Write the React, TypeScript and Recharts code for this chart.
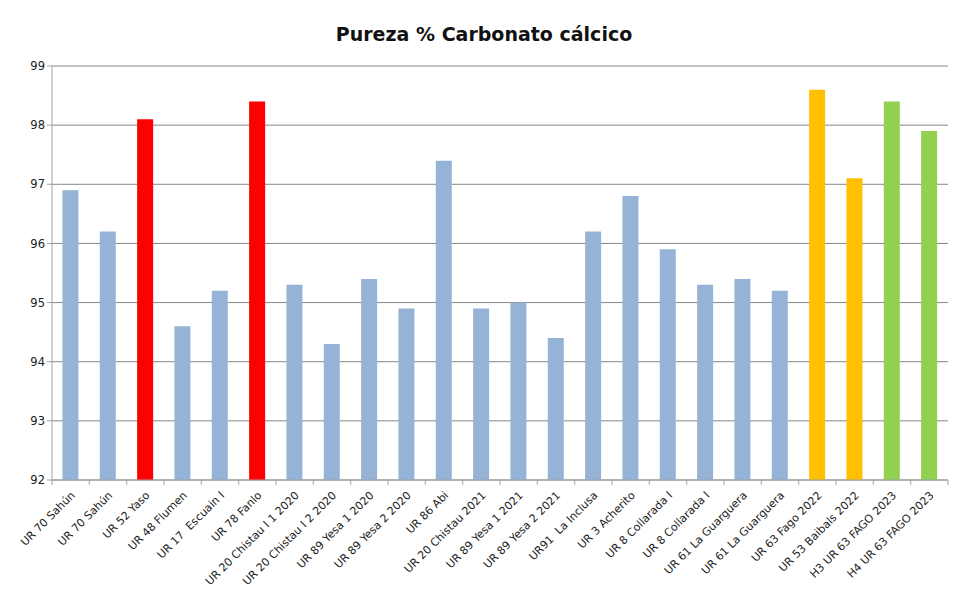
import { BarChart, Bar, XAxis, YAxis, CartesianGrid, Cell } from "recharts"

const categories = [
  "UR 70 Sahún",
  "UR 70 Sahún",
  "UR 52 Yaso",
  "UR 48 Flumen",
  "UR 17  Escuain I",
  "UR 78 Fanlo",
  "UR 20 Chistau I 1 2020",
  "UR 20 Chistau I 2 2020",
  "UR 89 Yesa 1 2020",
  "UR 89 Yesa 2 2020",
  "UR 86 Abi",
  "UR 20 Chistau 2021",
  "UR 89 Yesa 1 2021",
  "UR 89 Yesa 2 2021",
  "UR91  La Inclusa",
  "UR 3 Acherito",
  "UR 8 Collarada I",
  "UR 8 Collarada I",
  "UR 61 La Guarguera",
  "UR 61 La Guarguera",
  "UR 63 Fago 2022",
  "UR 53 Baibals 2022",
  "H3 UR 63 FAGO 2023",
  "H4 UR 63 FAGO 2023",
]

const purity = [
  96.9, 96.2, 98.1, 94.6, 95.2, 98.4, 95.3, 94.3, 95.4, 94.9, 97.4, 94.9,
  95.0, 94.4, 96.2, 96.8, 95.9, 95.3, 95.4, 95.2, 98.6, 97.1, 98.4, 97.9,
]

// color group per bar: b = blue, r = red, y = yellow, g = green
const groups = [
  "b", "b", "r", "b", "b", "r", "b", "b", "b", "b", "b", "b",
  "b", "b", "b", "b", "b", "b", "b", "b", "y", "y", "g", "g",
]

const yTicks = [92, 93, 94, 95, 96, 97, 98, 99]

const colors: Record<string, string> = {
  b: "#95B3D7",
  r: "#FF0000",
  y: "#FFC000",
  g: "#92D050",
}

const data = categories.map((name, i) => ({ name, value: purity[i], group: groups[i] }))

const WIDTH = 962
const HEIGHT = 607
const PLOT_LEFT = 52
const PLOT_RIGHT = 948
const band = (PLOT_RIGHT - PLOT_LEFT) / categories.length

function XTick(props: any) {
  const { x, y, payload, index } = props
  const tx = x + 5
  const ty = y + 8
  return (
    <g>
      <line x1={x - band / 2} y1={y - 8} x2={x - band / 2} y2={y - 3} stroke="#A0A0A0" />
      {index === categories.length - 1 && (
        <line x1={x + band / 2} y1={y - 8} x2={x + band / 2} y2={y - 3} stroke="#A0A0A0" />
      )}
      <text
        x={tx}
        y={ty}
        transform={`rotate(-45, ${tx}, ${ty})`}
        textAnchor="end"
        fontSize={11}
        fill="#222"
        style={{ whiteSpace: "pre" }}
      >
        {payload.value}
      </text>
    </g>
  )
}

export default function App() {
  return (
    <div
      style={{
        position: "relative",
        width: WIDTH,
        height: HEIGHT,
        margin: -8,
        background: "#fff",
        fontFamily: "'DejaVu Sans', sans-serif",
        overflow: "hidden",
      }}
    >
      <div
        style={{
          position: "absolute",
          left: 4,
          top: 4,
          width: WIDTH + 10,
          height: HEIGHT + 10,
          border: "1.5px solid #404040",
          boxSizing: "border-box",
        }}
      />
      <div
        style={{
          position: "absolute",
          left: 0,
          top: 23,
          width: 968,
          textAlign: "center",
          fontSize: 19,
          fontWeight: "bold",
          color: "#111",
        }}
      >
        Pureza % Carbonato cálcico
      </div>
      <BarChart
        width={WIDTH}
        height={HEIGHT}
        data={data}
        margin={{ top: 66, right: WIDTH - PLOT_RIGHT, bottom: 0, left: 0 }}
        barCategoryGap="28%"
      >
        <CartesianGrid vertical={false} stroke="#868686" strokeWidth={1} />
        <XAxis
          dataKey="name"
          interval={0}
          height={127}
          tick={<XTick />}
          tickLine={false}
          axisLine={{ stroke: "#A0A0A0" }}
        />
        <YAxis
          domain={[92, 99]}
          ticks={yTicks}
          width={PLOT_LEFT}
          tick={{ fontSize: 11.5, fill: "#222" }}
          tickSize={5}
          tickLine={{ stroke: "#A0A0A0" }}
          axisLine={{ stroke: "#A0A0A0" }}
          allowDataOverflow
        />
        <Bar dataKey="value" isAnimationActive={false}>
          {data.map((d, i) => (
            <Cell key={i} fill={colors[d.group]} />
          ))}
        </Bar>
      </BarChart>
    </div>
  )
}
